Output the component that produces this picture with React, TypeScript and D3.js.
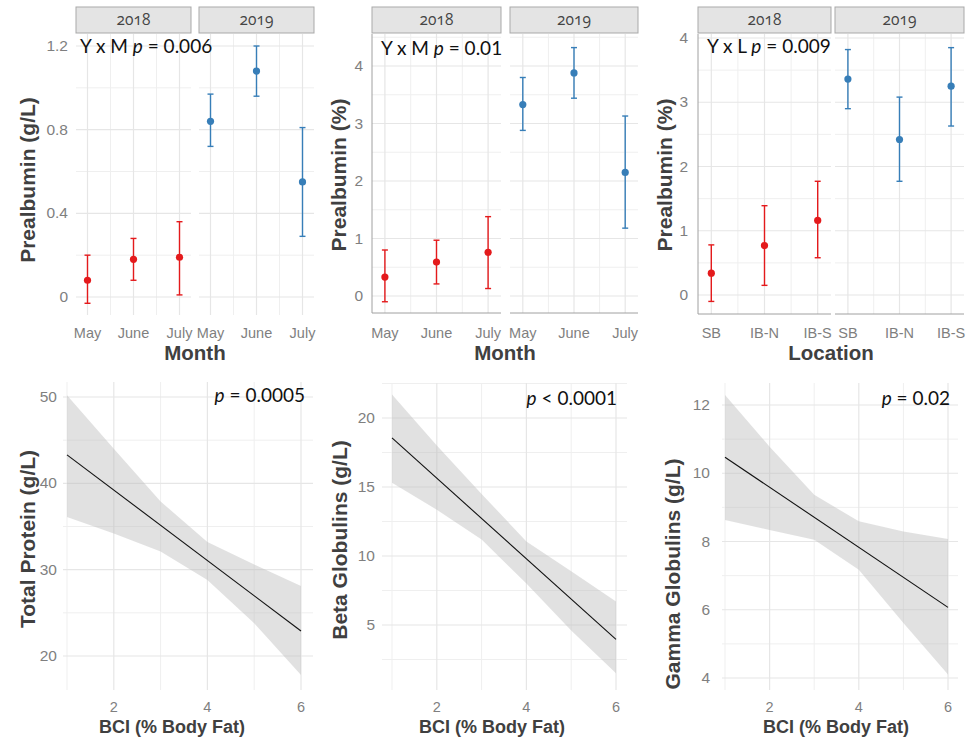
import React from "react";
import * as d3 from "d3";

// ---- data ----
const months = ["May", "June", "July"];
const locations = ["SB", "IB-N", "IB-S"];
const years = ["2018", "2019"];

// Prealbumin (g/L) by month
const pgMean2018 = [0.08, 0.18, 0.19];
const pgLow2018 = [-0.03, 0.08, 0.01];
const pgHigh2018 = [0.2, 0.28, 0.36];
const pgMean2019 = [0.84, 1.08, 0.55];
const pgLow2019 = [0.72, 0.96, 0.29];
const pgHigh2019 = [0.97, 1.2, 0.81];

// Prealbumin (%) by month
const ppMean2018 = [0.33, 0.59, 0.76];
const ppLow2018 = [-0.1, 0.21, 0.13];
const ppHigh2018 = [0.8, 0.97, 1.38];
const ppMean2019 = [3.33, 3.88, 2.15];
const ppLow2019 = [2.88, 3.44, 1.18];
const ppHigh2019 = [3.8, 4.32, 3.13];

// Prealbumin (%) by location
const plMean2018 = [0.34, 0.77, 1.16];
const plLow2018 = [-0.1, 0.15, 0.58];
const plHigh2018 = [0.78, 1.39, 1.77];
const plMean2019 = [3.36, 2.42, 3.25];
const plLow2019 = [2.9, 1.77, 2.63];
const plHigh2019 = [3.82, 3.08, 3.85];

// regressions on BCI
const bci = [1, 2, 3, 4, 5, 6];
const fitEnds = [1, 6];
const tpFit = [43.3, 22.9];
const tpUpper = [50.2, 44.0, 37.9, 33.2, 30.6, 28.1];
const tpLower = [36.1, 34.2, 32.1, 28.8, 23.8, 17.8];
const betaFit = [18.56, 3.96];
const betaUpper = [21.7, 18.0, 14.5, 11.05, 8.9, 6.7];
const betaLower = [15.3, 13.35, 11.2, 8.0, 4.6, 1.5];
const gammaFit = [10.47, 6.07];
const gammaUpper = [12.29, 10.78, 9.37, 8.59, 8.29, 8.07];
const gammaLower = [8.63, 8.34, 8.05, 7.17, 5.61, 4.1];

const RED = "#e41a1c";
const BLUE = "#377eb8";
const GRID = "#e6e6e6";
const GRID_MINOR = "#efefef";
const TICK = "#7f7f7f";
const TITLE = "#404040";
const AX = "Liberation Sans, Arial, sans-serif";
const ANN = "Lato, Open Sans, sans-serif";
const STRIP = "Open Sans, Noto Sans, sans-serif";

const pack = (m, l, h) => m.map((v, i) => ({ mean: v, low: l[i], high: h[i] }));

const topPanels = [
  {
    cats: months, yTitle: "Prealbumin (g/L)", xTitle: "Month",
    series: [pack(pgMean2018, pgLow2018, pgHigh2018), pack(pgMean2019, pgLow2019, pgHigh2019)],
    facets: [[76, 191], [199, 314]], top: 34, bottom: 315,
    yDom: [0, 1.2], yRng: [297, 46], ticks: [0, 0.4, 0.8, 1.2], minor: [0.2, 0.6, 1.0],
    fmt: (d) => (d === 0 ? "0" : d3.format(".1f")(d)), tickX: 68,
    titleX: 35, titleY: 180, xTitleX: 195, axisLine: false,
    ann: ["Y x M ", "p", " = 0.006"], annX: 80, annY: 53,
  },
  {
    cats: months, yTitle: "Prealbumin (%)", xTitle: "Month",
    series: [pack(ppMean2018, ppLow2018, ppHigh2018), pack(ppMean2019, ppLow2019, ppHigh2019)],
    facets: [[372, 501], [510, 638]], top: 34, bottom: 313,
    yDom: [0, 4], yRng: [296, 66], ticks: [0, 1, 2, 3, 4], minor: [0.5, 1.5, 2.5, 3.5, 4.5],
    fmt: (d) => String(d), tickX: 363,
    titleX: 346, titleY: 175, xTitleX: 505, axisLine: true,
    ann: ["Y x M ", "p", " = 0.01"], annX: 381, annY: 55,
  },
  {
    cats: locations, yTitle: "Prealbumin (%)", xTitle: "Location",
    series: [pack(plMean2018, plLow2018, plHigh2018), pack(plMean2019, plLow2019, plHigh2019)],
    facets: [[698, 831], [835, 964]], top: 34, bottom: 314,
    yDom: [0, 4], yRng: [295, 38], ticks: [0, 1, 2, 3, 4], minor: [0.5, 1.5, 2.5, 3.5],
    fmt: (d) => String(d), tickX: 688,
    titleX: 672, titleY: 175, xTitleX: 831, axisLine: true,
    ann: ["Y x L ", "p", " = 0.009"], annX: 707, annY: 53,
  },
];

const bottomPanels = [
  {
    yTitle: "Total Protein (g/L)", fit: tpFit, upper: tpUpper, lower: tpLower,
    xRng: [67, 301], ext: [63, 313], top: 382, bottom: 690,
    yDom: [20, 50], yRng: [656, 397], ticks: [20, 30, 40, 50], minor: [25, 35, 45],
    tickX: 57, titleX: 35, titleY: 539, xTitleX: 172,
    ann: ["", "p", " = 0.0005"], annX: 305, annY: 402,
  },
  {
    yTitle: "Beta Globulins (g/L)", fit: betaFit, upper: betaUpper, lower: betaLower,
    xRng: [392, 616], ext: [382, 627], top: 383, bottom: 690,
    yDom: [5, 20], yRng: [625, 418], ticks: [5, 10, 15, 20], minor: [2.5, 7.5, 12.5, 17.5, 22.5],
    tickX: 375, titleX: 347, titleY: 540, xTitleX: 492,
    ann: ["", "p", " < 0.0001"], annX: 617, annY: 405,
  },
  {
    yTitle: "Gamma Globulins (g/L)", fit: gammaFit, upper: gammaUpper, lower: gammaLower,
    xRng: [725, 948], ext: [722, 958], top: 383, bottom: 690,
    yDom: [4, 12], yRng: [678, 405], ticks: [4, 6, 8, 10, 12], minor: [5, 7, 9, 11],
    tickX: 710, titleX: 680, titleY: 574, xTitleX: 836,
    ann: ["", "p", " = 0.02"], annX: 950, annY: 405,
  },
];

function Annotation({ parts, x, y, anchor }) {
  return (
    <text x={x} y={y} fontFamily={ANN} fontSize={19} fill="#111" textAnchor={anchor}>
      {parts[0]}
      <tspan fontStyle="italic">{parts[1]}</tspan>
      {parts[2]}
    </text>
  );
}

function FacetPanel({ cfg }) {
  const y = d3.scaleLinear().domain(cfg.yDom).range(cfg.yRng);
  const inside = (v) => y(v) >= cfg.top - 0.5 && y(v) <= cfg.bottom + 0.5;
  const colors = [RED, BLUE];
  return (
    <g>
      {cfg.facets.map((rng, fi) => {
        const x = d3.scalePoint().domain(cfg.cats).range(rng).padding(0.25);
        const mids = d3.pairs(cfg.cats).map(([a, b]) => (x(a) + x(b)) / 2);
        const col = colors[fi];
        return (
          <g key={fi}>
            <rect x={rng[0]} y={7} width={rng[1] - rng[0]} height={26} fill="#e4e4e4" stroke="#a9a9a9" strokeWidth={1} />
            <text x={(rng[0] + rng[1]) / 2} y={25} textAnchor="middle" fontFamily={STRIP} fontSize={15.5}
              fill="#444" style={{ fontVariantNumeric: "oldstyle-nums", fontFeatureSettings: '"onum" 1' }}>{years[fi]}</text>
            {cfg.minor.filter(inside).map((v) => (
              <line key={"mn" + v} x1={rng[0]} x2={rng[1]} y1={y(v)} y2={y(v)} stroke={GRID_MINOR} strokeWidth={1} />
            ))}
            {mids.map((m, i) => (
              <line key={"vm" + i} x1={m} x2={m} y1={cfg.top} y2={cfg.bottom} stroke={GRID_MINOR} strokeWidth={1} />
            ))}
            {cfg.ticks.map((v) => (
              <line key={"mj" + v} x1={rng[0]} x2={rng[1]} y1={y(v)} y2={y(v)} stroke={GRID} strokeWidth={1.2} />
            ))}
            {cfg.cats.map((c) => (
              <line key={"vj" + c} x1={x(c)} x2={x(c)} y1={cfg.top} y2={cfg.bottom} stroke={GRID} strokeWidth={1.2} />
            ))}
            {cfg.axisLine && (
              <g stroke="#a0a0a0" strokeWidth={1}>
                <line x1={rng[0]} x2={rng[1]} y1={cfg.bottom} y2={cfg.bottom} />
                {fi === 0 && <line x1={rng[0]} x2={rng[0]} y1={cfg.top} y2={cfg.bottom} />}
              </g>
            )}
            {cfg.series[fi].map((d, i) => {
              const cx = x(cfg.cats[i]);
              return (
                <g key={i} stroke={col} strokeWidth={1.4}>
                  <line x1={cx} x2={cx} y1={y(d.low)} y2={y(d.high)} />
                  <line x1={cx - 3} x2={cx + 3} y1={y(d.low)} y2={y(d.low)} />
                  <line x1={cx - 3} x2={cx + 3} y1={y(d.high)} y2={y(d.high)} />
                  <circle cx={cx} cy={y(d.mean)} r={3.6} fill={col} stroke="none" />
                </g>
              );
            })}
            {cfg.cats.map((c) => (
              <text key={"xl" + c} x={x(c)} y={338} textAnchor="middle" fontFamily={AX} fontSize={14.5} fill={TICK}>{c}</text>
            ))}
          </g>
        );
      })}
      {cfg.ticks.map((v) => (
        <text key={"yl" + v} x={cfg.tickX} y={y(v) + 5} textAnchor="end" fontFamily={AX} fontSize={15.5} fill={TICK}>{cfg.fmt(v)}</text>
      ))}
      <text transform={`translate(${cfg.titleX},${cfg.titleY}) rotate(-90)`} textAnchor="middle" fontFamily={AX}
        fontWeight="bold" fontSize={21} fill={TITLE}>{cfg.yTitle}</text>
      <text x={cfg.xTitleX} y={360} textAnchor="middle" fontFamily={AX} fontWeight="bold" fontSize={20.5} fill={TITLE}>{cfg.xTitle}</text>
      <Annotation parts={cfg.ann} x={cfg.annX} y={cfg.annY} anchor="start" />
    </g>
  );
}

function RegressionPanel({ cfg }) {
  const x = d3.scaleLinear().domain([1, 6]).range(cfg.xRng);
  const y = d3.scaleLinear().domain(cfg.yDom).range(cfg.yRng);
  const inside = (v) => y(v) >= cfg.top - 0.5 && y(v) <= cfg.bottom + 0.5;
  const band = d3.area()
    .x((d, i) => x(bci[i]))
    .y0((d, i) => y(cfg.lower[i]))
    .y1((d) => y(d));
  const line = d3.line().x((d, i) => x(fitEnds[i])).y((d) => y(d));
  return (
    <g>
      {cfg.minor.filter(inside).map((v) => (
        <line key={"mn" + v} x1={cfg.ext[0]} x2={cfg.ext[1]} y1={y(v)} y2={y(v)} stroke={GRID_MINOR} strokeWidth={1} />
      ))}
      {[1, 3, 5].map((v) => (
        <line key={"vm" + v} x1={x(v)} x2={x(v)} y1={cfg.top} y2={cfg.bottom} stroke={GRID_MINOR} strokeWidth={1} />
      ))}
      {cfg.ticks.map((v) => (
        <line key={"mj" + v} x1={cfg.ext[0]} x2={cfg.ext[1]} y1={y(v)} y2={y(v)} stroke={GRID} strokeWidth={1.2} />
      ))}
      {[2, 4, 6].map((v) => (
        <line key={"vj" + v} x1={x(v)} x2={x(v)} y1={cfg.top} y2={cfg.bottom} stroke={GRID} strokeWidth={1.2} />
      ))}
      <path d={band(cfg.upper)} fill="#bdbdbd" fillOpacity={0.45} />
      <path d={line(cfg.fit)} fill="none" stroke="#111" strokeWidth={1.1} />
      {cfg.ticks.map((v) => (
        <text key={"yl" + v} x={cfg.tickX} y={y(v) + 5} textAnchor="end" fontFamily={AX} fontSize={15.5} fill={TICK}>{v}</text>
      ))}
      {[2, 4, 6].map((v) => (
        <text key={"xl" + v} x={x(v)} y={712} textAnchor="middle" fontFamily={AX} fontSize={14.5} fill={TICK}>{v}</text>
      ))}
      <text transform={`translate(${cfg.titleX},${cfg.titleY}) rotate(-90)`} textAnchor="middle" fontFamily={AX}
        fontWeight="bold" fontSize={21} fill={TITLE}>{cfg.yTitle}</text>
      <text x={cfg.xTitleX} y={733} textAnchor="middle" fontFamily={AX} fontWeight="bold" fontSize={18} fill={TITLE}>BCI (% Body Fat)</text>
      <Annotation parts={cfg.ann} x={cfg.annX} y={cfg.annY} anchor="end" />
    </g>
  );
}

export default function App() {
  return (
    <svg width={979} height={740} style={{ position: "absolute", left: 0, top: 0, background: "#fff" }}>
      <rect width={979} height={740} fill="#fff" />
      {topPanels.map((p, i) => <FacetPanel key={i} cfg={p} />)}
      {bottomPanels.map((p, i) => <RegressionPanel key={i} cfg={p} />)}
    </svg>
  );
}
